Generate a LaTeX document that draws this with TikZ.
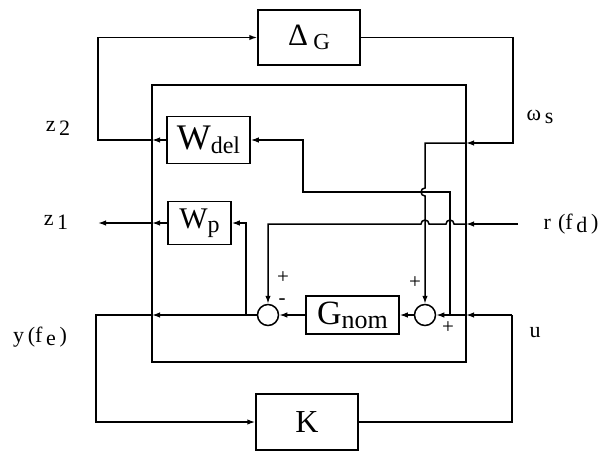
\documentclass[tikz,border=0pt]{standalone}
\usepackage{fontspec}
\setmainfont{Liberation Serif}
\usetikzlibrary{arrows.meta, positioning, calc}
\newcommand{\lowr}[1]{\raisebox{-0.35ex}{#1}}
\newcommand{\fsz}[1]{\fontsize{#1}{#1}\selectfont}
\tikzset{
  block/.style={rectangle, draw, line width=1.5pt, inner sep=0pt, font=\fsz{32}},
  sumjunc/.style={circle, draw, line width=1.5pt, minimum size=21pt, inner sep=0pt},
  lbl/.style={font=\fsz{22}, inner sep=0pt},
  sgn/.style={font=\fsz{21}, inner sep=0pt},
  arrow/.style={-{Latex[length=8pt,width=5.5pt]}, line width=1.5pt},
  line/.style={line width=1.5pt}
}

\begin{document}
\begin{tikzpicture}[x=1pt, y=-1pt]
  \useasboundingbox (0,0) rectangle (607,452);

  % Plant boundary
  \draw[line] (152,85) rectangle (466,362);

  % Blocks
  \node[block, minimum width=102pt, minimum height=55pt] (delta) at (309,37.5) {{\fsz{31}Δ}\,{\fsz{23}\lowr{G}}};
  \node[block, minimum width=83pt, minimum height=47pt] (wdel) at (208.5,140) {{\fsz{36}W}{\fsz{24}\lowr{del}}};
  \node[block, minimum width=63pt, minimum height=43pt] (wp) at (199.5,223) {{\fsz{30}W}{\fsz{24}\lowr{p}}};
  \node[block, minimum width=93pt, minimum height=38pt] (gnom) at (352.5,315) {{\fsz{34}G}{\fsz{26}\lowr{nom}}};
  \node[block, minimum width=102pt, minimum height=56pt] (K) at (307,422) {K};
  \node[sumjunc] (sum1) at (268,315) {};
  \node[sumjunc] (sum2) at (425,315) {};

  % Boundary points and corners
  \coordinate (bz2) at (152,140);
  \coordinate (cz2) at (98,140);
  \coordinate (cws) at (513,143);
  \coordinate (bws) at (466,143);
  \coordinate (rin) at (518,224);
  \coordinate (br) at (466,224);
  \coordinate (cu) at (512,315);
  \coordinate (bu) at (466,315);
  \coordinate (ju) at (450,315);
  \coordinate (by) at (152,315);
  \coordinate (cy) at (96,315);
  \coordinate (jy) at (246,315);
  \coordinate (bz1) at (152,223);
  \coordinate (z1end) at (98,223);

  % Uncertainty loop
  \draw[arrow] (wdel.west) -- (bz2);
  \draw[arrow] (bz2) -- (cz2) |- (delta.west);
  \draw[arrow] (delta.east) -| (cws) -- (bws);
  \draw[arrow] (bws) -- (425,143) -- (425,188) arc[start angle=90, end angle=270, radius=4pt]
    -- (sum2.north);
  \draw[arrow] (ju) -- (450,192) -- (303,192) -- (303,140) -- (wdel.east);

  % Reference input
  \draw[arrow] (rin) -- (br);
  \draw[arrow] (br) -- (454,224) arc[start angle=0, end angle=180, radius=4pt]
    -- (429,224) arc[start angle=0, end angle=180, radius=4pt] -| (sum1.north);

  % Control input
  \draw[line] (K.east) -| (cu);
  \draw[arrow] (cu) -- (bu);
  \draw[arrow] (bu) -- (sum2.east);
  \draw[arrow] (sum2.west) -- (gnom.east);
  \draw[arrow] (gnom.west) -- (sum1.east);

  % Outputs
  \draw[arrow] (sum1.west) -- (by);
  \draw[arrow] (by) -- (cy) |- (K.west);
  \draw[arrow] (jy) |- (wp.east);
  \draw[arrow] (wp.west) -- (bz1);
  \draw[arrow] (bz1) -- (z1end);

  % Labels
  \node[lbl] (lz2) at (58,128) {z\,\lowr{2}};
  \node[lbl] (lz1) at (56,222) {z\,\lowr{1}};
  \node[lbl] (lws) at (540,117) {ω\,\lowr{s}};
  \node[lbl] (lr) at (571,224) {r\hspace{7pt}(f\,\lowr{d}\,)};
  \node[lbl] (ly) at (40,337) {y\,(f\,\lowr{e}\,)};
  \node[lbl] (lu) at (535,333) {u};
  \node[sgn] at (283,278) {+};
  \node[sgn] at (282,302) {-};
  \node[sgn] at (415,283) {+};
  \node[sgn] at (448,328) {+};
\end{tikzpicture}
\end{document}
